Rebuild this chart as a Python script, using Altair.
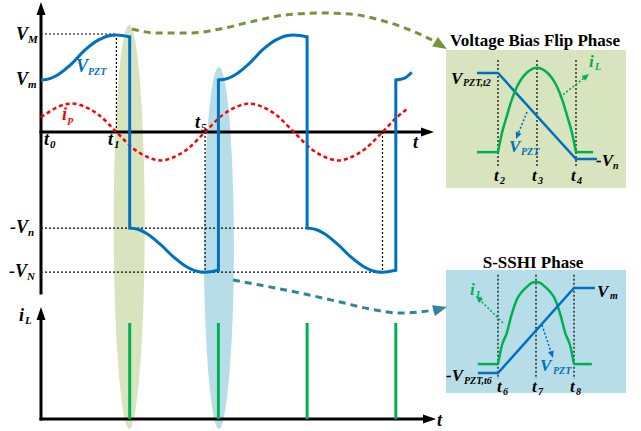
import math
import altair as alt
import pandas as pd

# ---------------- data (logical units) ----------------
# Main panel: time in a.u. (half period of i_p = 100), voltage / current in a.u.
V_M, V_m, V_n, V_N = 10.0, 5.3, 9.8, 14.3
T1, T5, T9 = 85, 185, 385
SWITCH_T = [100, 200, 300, 400]

vpzt_seg_t = [
    [0, 10, 20, 35, 50, 65, 78, 85, 100],
    [100, 110, 120, 135, 150, 165, 178, 185, 200],
    [200, 210, 220, 235, 250, 265, 278, 285, 300],
    [300, 310, 320, 335, 350, 365, 378, 385, 400],
    [400, 410, 418],
]
vpzt_seg_v = [
    [5.3, 5.45, 5.9, 7.0, 8.4, 9.4, 9.85, 9.9, 9.7],
    [-9.8, -9.95, -10.4, -11.5, -12.8, -13.8, -14.25, -14.3, -14.1],
    [5.3, 5.45, 5.9, 7.0, 8.4, 9.4, 9.85, 9.9, 9.7],
    [-9.8, -9.95, -10.4, -11.5, -12.8, -13.8, -14.25, -14.3, -14.1],
    [5.3, 5.5, 6.1],
]
ip_t = [0, 10, 20, 35, 50, 65, 85, 105, 120, 135, 150, 165, 185, 205, 220, 235,
        250, 265, 285, 305, 320, 335, 350, 365, 385, 400, 412]
ip_v = [1.5, 2.1, 2.6, 2.9, 2.55, 1.75, 0, -1.75, -2.55, -2.9, -2.55, -1.75, 0,
        1.75, 2.55, 2.9, 2.55, 1.75, 0, -1.75, -2.55, -2.9, -2.55, -1.75, 0, 1.4, 2.3]
iL_t = [100, 200, 300, 400]
iL_v = [1.0, 1.0, 1.0, 1.0]

# Inset 1: Voltage Bias Flip Phase (time t2..t4, normalised level)
in1_blue_t = [1.46, 2, 4, 4.54]
in1_blue_L = [1, 1, -1, -1]
in1_base_L = -0.84
in1_flat_t = [[1.46, 2], [4, 4.44]]
in1_arc_t = [2, 2.1, 2.22, 2.35, 2.48, 2.6, 2.73, 2.87, 3, 3.13, 3.27, 3.4, 3.52, 3.65, 3.78, 3.9, 4]
in1_arc_L = [-0.84, -0.4, -0.02, 0.37, 0.67, 0.86, 1.0, 1.09, 1.12, 1.09, 1.0, 0.86, 0.67,
             0.37, -0.02, -0.4, -0.84]
in1_marks = [2, 3, 4]

# Inset 2: S-SSHI Phase (time t6..t8)
in2_blue_t = [5.47, 6, 8, 8.55]
in2_blue_L = [-1, -1, 1, 1]
in2_base_L = -0.79
in2_flat_t = [[5.47, 6], [8, 8.47]]
in2_arc_t = [6, 6.1, 6.23, 6.36, 6.49, 6.62, 6.75, 6.87, 7, 7.13, 7.25, 7.38, 7.51, 7.64, 7.77, 7.9, 8]
in2_arc_L = [-0.79, -0.36, -0.06, 0.38, 0.72, 0.9, 1.02, 1.11, 1.14, 1.11, 1.02, 0.9, 0.72,
             0.38, -0.06, -0.36, -0.79]
in2_marks = [6, 7, 8]

# ---------------- layout helpers ----------------
BLUE, RED, GREEN, BLACK = "#0070c0", "#ff0000", "#00b050", "#000000"
OLIVE, TEAL = "#77933c", "#31849b"
OLIVE_BG, BLUE_BG = "#d7e4bd", "#b7dee8"

def mx(t): return 41 + 0.887 * t
def my(v): return 132 - 9.8 * v
def ly(i): return 419 - 96 * i
def i1x(t): return 498 + 39 * (t - 2)
def i1y(L): return 116 - 43 * L
def i2x(t): return 498 + 38 * (t - 6)
def i2y(L): return 330.5 - 42.5 * L

XS = alt.Scale(domain=[0, 641], nice=False, zero=False)
YS = alt.Scale(domain=[0, 431], nice=False, zero=False, reverse=True)
X = lambda f="x": alt.X(f"{f}:Q", scale=XS, axis=None)
Y = lambda f="y": alt.Y(f"{f}:Q", scale=YS, axis=None)

layers = []

def line(xs, ys, color, width, dash=None, interp="linear"):
    df = pd.DataFrame({"x": xs, "y": ys, "i": list(range(len(xs)))})
    kw = dict(color=color, strokeWidth=width, interpolate=interp, strokeJoin="miter")
    if dash:
        kw["strokeDash"] = dash
    layers.append(alt.Chart(df).mark_line(**kw).encode(x=X(), y=Y(), order="i:Q"))

def rules(segs, color, width, dash=None, cap="butt"):
    df = pd.DataFrame(segs, columns=["x", "y", "x2", "y2"])
    kw = dict(color=color, strokeWidth=width, strokeCap=cap)
    if dash:
        kw["strokeDash"] = dash
    layers.append(alt.Chart(df).mark_rule(**kw).encode(
        x=X(), y=Y(), x2=alt.X2("x2:Q"), y2=alt.Y2("y2:Q")))

def arrowheads(items, length, width):
    # items: (tip_x, tip_y, dir_x, dir_y, color)
    rows = []
    for tx, ty, dx, dy, c in items:
        n = math.hypot(dx, dy)
        ux, uy = dx / n, dy / n
        ang = math.degrees(math.atan2(dx, -dy)) % 360
        rows.append({"x": tx - ux * length / 2, "y": ty - uy * length / 2,
                     "a": ang, "c": c})
    df = pd.DataFrame(rows)
    w = width / length
    shape = f"M0,-1 L{w:.3f},1 L{-w:.3f},1 Z"
    layers.append(alt.Chart(df).mark_point(shape=shape, filled=True, opacity=1,
                                           size=length * length, strokeWidth=0).encode(
        x=X(), y=Y(), angle=alt.Angle("a:Q", scale=None), color=alt.Color("c:N", scale=None)))

# ---- highlight ellipses (behind everything) ----
def ellipse(cx, top, bottom, half_w, color):
    h = bottom - top
    w = half_w / (h / 2)
    shape = (f"M0,-1 C{w*0.55:.4f},-1 {w:.4f},-0.55 {w:.4f},0 "
             f"C{w:.4f},0.55 {w*0.5:.4f},1 0,1 "
             f"C{-w*0.5:.4f},1 {-w:.4f},0.55 {-w:.4f},0 "
             f"C{-w:.4f},-0.55 {-w*0.55:.4f},-1 0,-1 Z")
    df = pd.DataFrame({"x": [cx], "y": [(top + bottom) / 2]})
    layers.append(alt.Chart(df).mark_point(shape=shape, filled=True, opacity=1, color=color,
                                           size=h * h, strokeWidth=0).encode(x=X(), y=Y()))

ellipse(mx(SWITCH_T[0]) - 0.5, 25, 429, 15.5, OLIVE_BG)
ellipse(mx(SWITCH_T[1]) + 0.5, 67, 429, 15, BLUE_BG)

# ---- inset backgrounds ----
bg = pd.DataFrame({"x": [446, 446], "x2": [626, 626], "y": [50, 270], "y2": [188, 393],
                   "c": [OLIVE_BG, BLUE_BG]})
layers.append(alt.Chart(bg).mark_rect().encode(
    x=X(), x2=alt.X2("x2:Q"), y=Y(), y2=alt.Y2("y2:Q"), color=alt.Color("c:N", scale=None)))

# ---- dotted guide lines ----
dots = [
    (mx(0), my(V_M), mx(T1), my(V_M)),
    (mx(T1), my(V_M), mx(T1), my(0)),
    (mx(0), my(-V_n), mx(300), my(-V_n)),
    (mx(0), my(-V_N), mx(T9), my(-V_N)),
    (mx(T5), my(0), mx(T5), my(-V_N)),
    (mx(T9), my(0), mx(T9), my(-V_N)),
]
for t in in1_marks:
    dots.append((i1x(t), i1y(1.3), i1x(t), i1y(-1.21)))
for t in in2_marks:
    dots.append((i2x(t), i2y(1.31), i2x(t), i2y(-1.14)))
rules(dots, BLACK, 1.2, dash=[2, 2])

# ---- axes ----
rules([
    (mx(0), 293, mx(0), 12),
    (mx(0), my(0), 424, my(0)),
    (mx(0), ly(0), mx(0), 316),
    (mx(0), ly(0), 426, ly(0)),
], BLACK, 3, cap="square")
arrowheads([
    (mx(0), 2, 0, -1, BLACK),
    (434, my(0), 1, 0, BLACK),
    (mx(0), 307, 0, -1, BLACK),
    (436, ly(0), 1, 0, BLACK),
], 13, 9)

# ---- i_p (red dashed) ----
line([mx(t) for t in ip_t], [my(v) for v in ip_v], RED, 2.5, dash=[4, 3], interp="monotone")

# ---- V_PZT (blue) ----
for ts, vs in zip(vpzt_seg_t, vpzt_seg_v):
    line([mx(t) for t in ts], [my(v) for v in vs], BLUE, 3, interp="monotone")
jumps = []
for k, t in enumerate(SWITCH_T):
    a = vpzt_seg_v[k][-1]
    b = vpzt_seg_v[k + 1][0]
    jumps.append((mx(t), my(a), mx(t), my(b)))
rules(jumps, BLUE, 3, cap="square")

# ---- i_L spikes (green) ----
rules([(mx(t), ly(0), mx(t), ly(v)) for t, v in zip(iL_t, iL_v)], GREEN, 3)

# ---- inset 1 curves ----
line([i1x(t) for t in in1_blue_t], [i1y(L) for L in in1_blue_L], BLUE, 2.5)
for seg in in1_flat_t:
    line([i1x(t) for t in seg], [i1y(in1_base_L)] * 2, GREEN, 2.5)
line([i1x(t) for t in in1_arc_t], [i1y(L) for L in in1_arc_L], GREEN, 2.5, interp="monotone")

# ---- inset 2 curves ----
for seg in in2_flat_t:
    line([i2x(t) for t in seg], [i2y(in2_base_L)] * 2, GREEN, 2.5)
line([i2x(t) for t in in2_arc_t], [i2y(L) for L in in2_arc_L], GREEN, 2.5, interp="monotone")
line([i2x(t) for t in in2_blue_t], [i2y(L) for L in in2_blue_L], BLUE, 2.5)

# ---- small dotted pointer arrows inside insets ----
small = [
    ((560, 97), (589, 74), GREEN),
    ((527, 112), (516, 139), BLUE),
    ((503, 323), (476, 296), GREEN),
    ((542, 325), (553, 358), BLUE),
]
heads = []
for (x0, y0), (x1, y1), c in small:
    dx, dy = x1 - x0, y1 - y0
    n = math.hypot(dx, dy)
    line([x0, x1 - dx / n * 6], [y0, y1 - dy / n * 6], c, 1.6, dash=[2, 2])
    heads.append((x1, y1, dx, dy, c))
arrowheads(heads, 7, 6)

# ---- big curved dashed arrows ----
olive_x = [132, 157, 190, 220, 250, 285, 320, 350, 380, 410, 432]
olive_y = [29, 33, 33, 29, 22, 15, 13, 14, 20, 30, 40]
line(olive_x, olive_y, OLIVE, 3, dash=[7, 5], interp="monotone")
teal_x = [233, 260, 300, 340, 370, 400, 420, 434]
teal_y = [280, 285, 293, 302, 309, 313, 312, 310]
line(teal_x, teal_y, TEAL, 3, dash=[7, 5], interp="monotone")
arrowheads([(447, 49, 20, 12, OLIVE), (447, 307, 15, -4, TEAL)], 14, 11)

# ---- labels ----
K = BLACK
labels = [
    ("V", 16, 35, 18, K), ("M", 28, 40, 11, K),
    ("V", 16, 80, 18, K), ("m", 28, 85, 11, K),
    ("-V", 10, 228, 18, K), ("n", 28, 233, 11, K),
    ("-V", 9, 272, 18, K), ("N", 27, 277, 11, K),
    ("V", 76, 67, 18, BLUE), ("PZT", 88, 72, 10, BLUE),
    ("i", 62, 115, 18, RED), ("p", 68, 120, 11, RED),
    ("t", 44, 140, 18, K), ("0", 50, 145, 11, K),
    ("t", 108, 140, 18, K), ("1", 114, 145, 11, K),
    ("t", 195, 123, 18, K), ("5", 201, 128, 11, K),
    ("t", 413, 143, 18, K),
    ("i", 19, 316, 18, K), ("L", 25, 321, 11, K),
    ("t", 437, 421, 18, K),
    # inset 1
    ("V", 451, 79, 17, K), ("PZT,t2", 463, 83, 10, K),
    ("-V", 596, 161, 17, K), ("n", 613, 166, 10, K),
    ("t", 494, 176, 17, K), ("2", 500, 181, 10, K),
    ("t", 532, 176, 17, K), ("3", 538, 181, 10, K),
    ("t", 571, 176, 17, K), ("4", 577, 181, 10, K),
    ("i", 589, 62, 17, GREEN), ("L", 595, 67, 10, GREEN),
    ("V", 509, 147, 17, BLUE), ("PZT", 521, 152, 10, BLUE),
    # inset 2
    ("V", 597, 292, 17, K), ("m", 610, 296, 10, K),
    ("-V", 446, 376, 17, K), ("PZT,t6", 464, 381, 10, K),
    ("t", 497, 387, 17, K), ("6", 503, 392, 10, K),
    ("t", 532, 387, 17, K), ("7", 538, 392, 10, K),
    ("t", 570, 387, 17, K), ("8", 576, 392, 10, K),
    ("i", 470, 290, 17, GREEN), ("L", 476, 295, 10, GREEN),
    ("V", 540, 366, 17, BLUE), ("PZT", 553, 371, 10, BLUE),
]
ldf = pd.DataFrame(labels, columns=["text", "x", "y", "s", "c"])
layers.append(alt.Chart(ldf).mark_text(font="Liberation Serif", fontStyle="italic",
                                       fontWeight="bold", align="left", baseline="middle").encode(
    x=X(), y=Y(), text="text:N", size=alt.Size("s:Q", scale=None),
    color=alt.Color("c:N", scale=None)))

titles = pd.DataFrame({"text": ["Voltage Bias Flip Phase", "S-SSHI Phase"],
                       "x": [535, 533], "y": [41, 263]})
layers.append(alt.Chart(titles).mark_text(font="Liberation Serif", fontWeight="bold",
                                          fontSize=17, align="center", baseline="middle",
                                          color=BLACK).encode(x=X(), y=Y(), text="text:N"))

chart = alt.layer(*layers).properties(
    width=641, height=431, autosize=alt.AutoSizeParams(type="none"), padding=0,
    background="white",
).configure_view(stroke=None)

chart.save("out.html", embed_options={"renderer": "svg", "actions": False})
